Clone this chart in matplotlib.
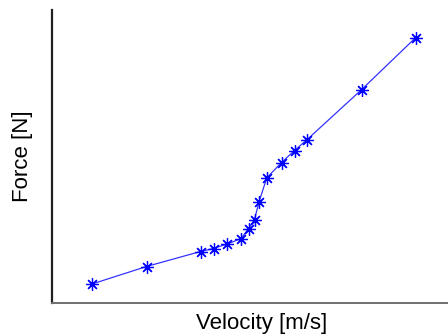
import matplotlib
matplotlib.use('Agg')
import matplotlib.pyplot as plt

# measured force/velocity curve (arbitrary units, axes carry no ticks)
velocity = [40.5, 95.0, 149.0, 162.0, 175.5, 189.5, 197.0, 203.0, 207.5,
            215.2, 230.0, 243.0, 255.5, 310.0, 364.3]
force = [19.0, 36.5, 51.5, 54.5, 59.0, 64.3, 74.5, 83.5, 101.0,
         125.0, 140.5, 152.5, 163.3, 213.3, 265.5]

fig = plt.figure(figsize=(4.48, 3.36), dpi=100)
# axes run a little past the right edge of the figure
ax = fig.add_axes([51.5/448, 33/336, 420/448, 293/336])

# line plus asterisk markers
ax.plot(velocity, force, color='#0000ff', lw=0.9, alpha=0.8)
ax.plot(velocity, force, color='#0000ff', lw=0, marker=(8, 2, 0), ms=9,
        mew=0.9)

ax.set_xlim(0, 420)
ax.set_ylim(0, 293)
ax.set_xticks([])
ax.set_yticks([])
ax.spines['top'].set_visible(False)
ax.spines['right'].set_visible(False)
ax.spines['left'].set_color('#202020')
ax.spines['left'].set_linewidth(1.6)
ax.spines['bottom'].set_color('#707070')
ax.spines['bottom'].set_linewidth(1.4)

ax.set_xlabel('Velocity [m/s]', fontsize=16, family='Liberation Sans', labelpad=7)
ax.set_ylabel('Force [N]', fontsize=16, family='Liberation Sans', labelpad=13)

fig.savefig('out.png', dpi=100)
